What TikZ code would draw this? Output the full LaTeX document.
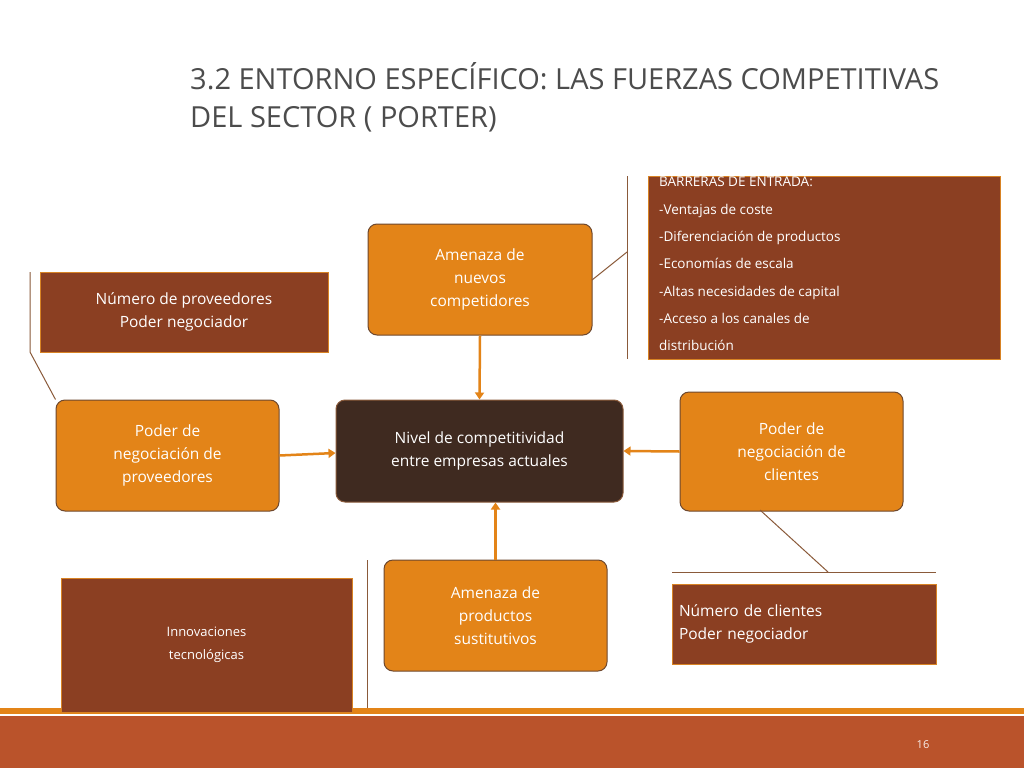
\documentclass[tikz,border=0pt]{standalone}
\usepackage{fontspec}
\setmainfont{Open Sans}
\usetikzlibrary{arrows.meta}
\definecolor{brn}{HTML}{8B3F22}
\definecolor{org}{HTML}{E38418}
\definecolor{dk}{HTML}{3F2A20}
\definecolor{band}{HTML}{BA532B}
\definecolor{ln}{HTML}{8A5A3A}
\tikzset{
 ob/.style={draw=ln!80!black,line width=1pt,fill=org,rounded corners=9pt,text=white,align=center,font=\fontsize{15.5}{23}\selectfont,inner sep=0pt},
 bb/.style={draw=org!70!brown,line width=1pt,fill=brn,text=white,align=center,inner sep=0pt},
 ar/.style={draw=org,line width=2.5pt,-{Triangle[length=7pt,width=9pt]}},
 br/.style={draw=ln,line width=1pt}
}
\begin{document}
\begin{tikzpicture}[x=1pt,y=-1pt]
\useasboundingbox (0,0) rectangle (1024,768);
\fill[white] (0,0) rectangle (1024,768);
\node[anchor=north west,align=left,text=black!70,font=\fontsize{29}{38}\selectfont,inner sep=0pt] (title) at (190,62) {3.2 ENTORNO ESPECÍFICO: LAS FUERZAS COMPETITIVAS\\DEL SECTOR ( PORTER)};
\fill[org] (0,708) rectangle (1024,714);
\fill[band] (0,716) rectangle (1024,768);
\node[text=white!90!band,font=\fontsize{11}{13}\selectfont] (pg) at (923,745) {16};
% boxes
\node[draw=org!70!brown,line width=1pt,fill=brn,minimum width=352pt,minimum height=183pt,anchor=north west,inner sep=0pt] (bar) at (648,176) {};
\node[anchor=north west,align=left,text=white,font=\fontsize{13.5}{27.3}\selectfont,inner sep=0pt] (bart) at (659,177) {BARRERAS DE ENTRADA:\\-Ventajas de coste\\-Diferenciación de productos\\-Economías de escala\\-Altas necesidades de capital\\-Acceso a los canales de\\distribución};
\node[ob,minimum width=224pt,minimum height=111pt] (nuevos) at (480,279.5) {Amenaza de\\nuevos\\competidores};
\node[bb,minimum width=288pt,minimum height=80pt,font=\fontsize{15.5}{23}\selectfont] (nprov) at (184,312) {Número de proveedores\\Poder negociador};
\node[ob,minimum width=223pt,minimum height=111pt] (prov) at (167.5,455.5) {Poder de\\negociación de\\proveedores};
\node[draw=ln,line width=1pt,fill=dk,rounded corners=9pt,text=white,align=center,font=\fontsize{15.5}{23}\selectfont,minimum width=287pt,minimum height=102pt,inner sep=0pt] (centro) at (479.5,451) {Nivel de competitividad\\entre empresas actuales};
\node[ob,minimum width=223pt,minimum height=119pt] (cli) at (791.5,451.5) {Poder de\\negociación de\\clientes};
\node[bb,minimum width=264pt,minimum height=80pt,align=left,font=\fontsize{15.5}{23}\selectfont,text width=250pt] (ncli) at (804,624) {Número de clientes\\Poder negociador};
\node[ob,minimum width=223pt,minimum height=111pt] (sust) at (495.5,615.5) {Amenaza de\\productos\\sustitutivos};
\node[bb,minimum width=291pt,minimum height=134pt,font=\fontsize{13}{23}\selectfont] (innov) at (206.5,645) {Innovaciones\\tecnológicas};
% arrows
\draw[ar] (nuevos.south) -- (centro.north);
\draw[ar] (prov.east) -- ([yshift=-2pt]centro.west);
\draw[ar] (cli.west) -- (centro.east);
\draw[ar] (sust.north) -- ([xshift=16pt]centro.south);
% brackets
\coordinate (b1t) at (627,176); \coordinate (b1b) at (627,359); \coordinate (b1m) at (627,252);
\draw[br] (b1t) -- (b1b);
\draw[br] (nuevos.east) ++(0,0) coordinate (ne) (592,280) -- (b1m);
\coordinate (b2t) at (30,272); \coordinate (b2b) at (30,352);
\draw[br] (b2t) -- (b2b) -- (prov.north west);
\coordinate (c1) at (760,510); \coordinate (c2) at (828,572);
\coordinate (h1) at (672,572); \coordinate (h2) at (936,572);
\draw[br] (c1) -- (c2); \draw[br] (h1) -- (h2);
\coordinate (v1) at (367,560); \coordinate (v2) at (367,708);
\draw[br] (v1) -- (v2);
\end{tikzpicture}
\end{document}
